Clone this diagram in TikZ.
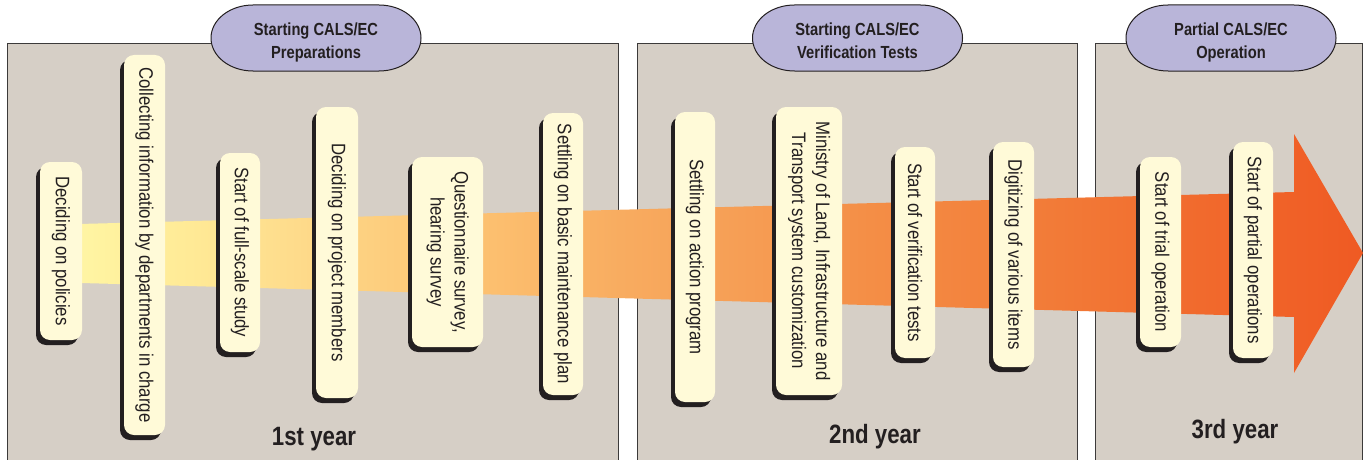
\documentclass[tikz,border=0pt]{standalone}
\usepackage{fontspec}
\setmainfont{Liberation Sans}[FakeStretch=0.86]
\newfontfamily\headfont{Liberation Sans}[FakeStretch=0.84]
\usepackage{graphicx}
\definecolor{panelc}{RGB}{214,207,198}
\definecolor{panelline}{RGB}{60,58,58}
\definecolor{ovalc}{RGB}{185,181,217}
\definecolor{creamc}{RGB}{255,250,216}
\definecolor{shadowc}{RGB}{35,31,32}
\definecolor{inkc}{RGB}{35,31,32}
\definecolor{bandA}{RGB}{255,246,168}
\definecolor{bandB}{RGB}{255,243,160}
\definecolor{bandC}{RGB}{255,234,150}
\definecolor{bandD}{RGB}{254,220,140}
\definecolor{bandE}{RGB}{253,205,125}
\definecolor{bandF}{RGB}{252,190,110}
\definecolor{bandG}{RGB}{248,172,96}
\definecolor{bandH}{RGB}{246,157,84}
\definecolor{bandI}{RGB}{244,142,70}
\definecolor{bandJ}{RGB}{242,122,55}
\definecolor{bandK}{RGB}{241,106,45}
\definecolor{bandL}{RGB}{239,90,35}
\pgfdeclarehorizontalshading{bandshade}{100bp}{color(0bp)=(bandA); color(25bp)=(bandA); color(26.53bp)=(bandB); color(29.99bp)=(bandC); color(33.83bp)=(bandD); color(37.66bp)=(bandE); color(41.88bp)=(bandF); color(46.49bp)=(bandG); color(51.48bp)=(bandH); color(56.08bp)=(bandI); color(63.37bp)=(bandJ); color(68.74bp)=(bandK); color(75bp)=(bandL); color(100bp)=(bandL)}
\tikzset{
  panel/.style={fill=panelc, draw=panelline, line width=1pt},
  tagbox/.style={fill=creamc, rounded corners=10pt, inner sep=0pt, text=inkc,
    font=\fontsize{19.5}{24}\selectfont,
    preaction={fill=shadowc, transform canvas={shift={(-4pt,-5pt)}}}},
  ovalshape/.style={fill=ovalc, draw=shadowc, line width=1pt},
  ovaltext/.style={text=inkc, align=center, inner sep=0pt,
    font=\headfont\bfseries\fontsize{17.5}{23}\selectfont},
  yeartext/.style={text=inkc, inner sep=0pt, anchor=base, font=\headfont\bfseries\fontsize{26.5}{30}\selectfont},
}
\begin{document}
\begin{tikzpicture}[x=1pt,y=1pt]
\useasboundingbox (0,0) rectangle (1364,459);
\clip (0,0) rectangle (1364,459);
% panels
\draw[panel] (7.5,-10) rectangle (618,415);
\draw[panel] (637,-10) rectangle (1077,415);
\draw[panel] (1095,-10) rectangle (1362,415);
% band arrow
\shade[shading=bandshade] (60,234.5) -- (1294,267) -- (1294,325) -- (1363,206) -- (1294,86) -- (1294,142) -- (60,176.6) -- cycle;
% milestone boxes
\node[tagbox, minimum width=42pt, minimum height=178pt] (b1) at (61,208) {\rotatebox{-90}{Deciding on policies}};
\node[tagbox, minimum width=41pt, minimum height=380pt] (b2) at (144.5,214) {\rotatebox{-90}{Collecting information by departments in charge}};
\node[tagbox, minimum width=40pt, minimum height=199pt] (b3) at (240,206.5) {\rotatebox{-90}{Start of full-scale study}};
\node[tagbox, minimum width=42pt, minimum height=291pt] (b4) at (337,206.5) {\rotatebox{-90}{Deciding on project members}};
\node[tagbox, minimum width=71pt, minimum height=190pt] (b5) at (447.5,207) {\rotatebox{-90}{\begin{tabular}{@{}c@{}}Questionnaire survey,\\hearing survey\end{tabular}}};
\node[tagbox, minimum width=40pt, minimum height=282pt] (b6) at (563,205) {\rotatebox{-90}{Settling on basic maintenance plan}};
\node[tagbox, minimum width=40pt, minimum height=290pt] (b7) at (695,202) {\rotatebox{-90}{Settling on action program}};
\node[tagbox, minimum width=66pt, minimum height=288pt] (b8) at (809,208) {\rotatebox{-90}{\begin{tabular}{@{}c@{}}Ministry of Land, Infrastructure and\\Transport system customization\end{tabular}}};
\node[tagbox, minimum width=40pt, minimum height=211pt] (b9) at (915,206.5) {\rotatebox{-90}{Start of verification tests}};
\node[tagbox, minimum width=41pt, minimum height=225pt] (b10) at (1013.5,204.5) {\rotatebox{-90}{Digitizing of various items}};
\node[tagbox, minimum width=41pt, minimum height=190pt] (b11) at (1160.5,207) {\rotatebox{-90}{Start of trial operation}};
\node[tagbox, minimum width=40pt, minimum height=216pt] (b12) at (1253,209) {\rotatebox{-90}{Start of partial operations}};
% phase ovals
\draw[ovalshape] (253,454) -- (379,454) arc[start angle=90,end angle=-90,x radius=42pt,y radius=33pt] -- (253,388) arc[start angle=270,end angle=90,x radius=42pt,y radius=33pt] -- cycle;
\node[ovaltext] (o1) at (316,417) {Starting CALS/EC\\Preparations};
\draw[ovalshape] (794.5,454) -- (920.5,454) arc[start angle=90,end angle=-90,x radius=42pt,y radius=33pt] -- (794.5,388) arc[start angle=270,end angle=90,x radius=42pt,y radius=33pt] -- cycle;
\node[ovaltext] (o2) at (857.5,417) {Starting CALS/EC\\Verification Tests\vphantom{p}};
\draw[ovalshape] (1168,454) -- (1294,454) arc[start angle=90,end angle=-90,x radius=42pt,y radius=33pt] -- (1168,388) arc[start angle=270,end angle=90,x radius=42pt,y radius=33pt] -- cycle;
\node[ovaltext] (o3) at (1231,417) {Partial CALS/EC\\Operation};
% year labels
\node[yeartext] (y1) at (314,14) {1st year};
\node[yeartext] (y2) at (875,16) {2nd year};
\node[yeartext] (y3) at (1235,21) {3rd year};
\end{tikzpicture}
\end{document}
